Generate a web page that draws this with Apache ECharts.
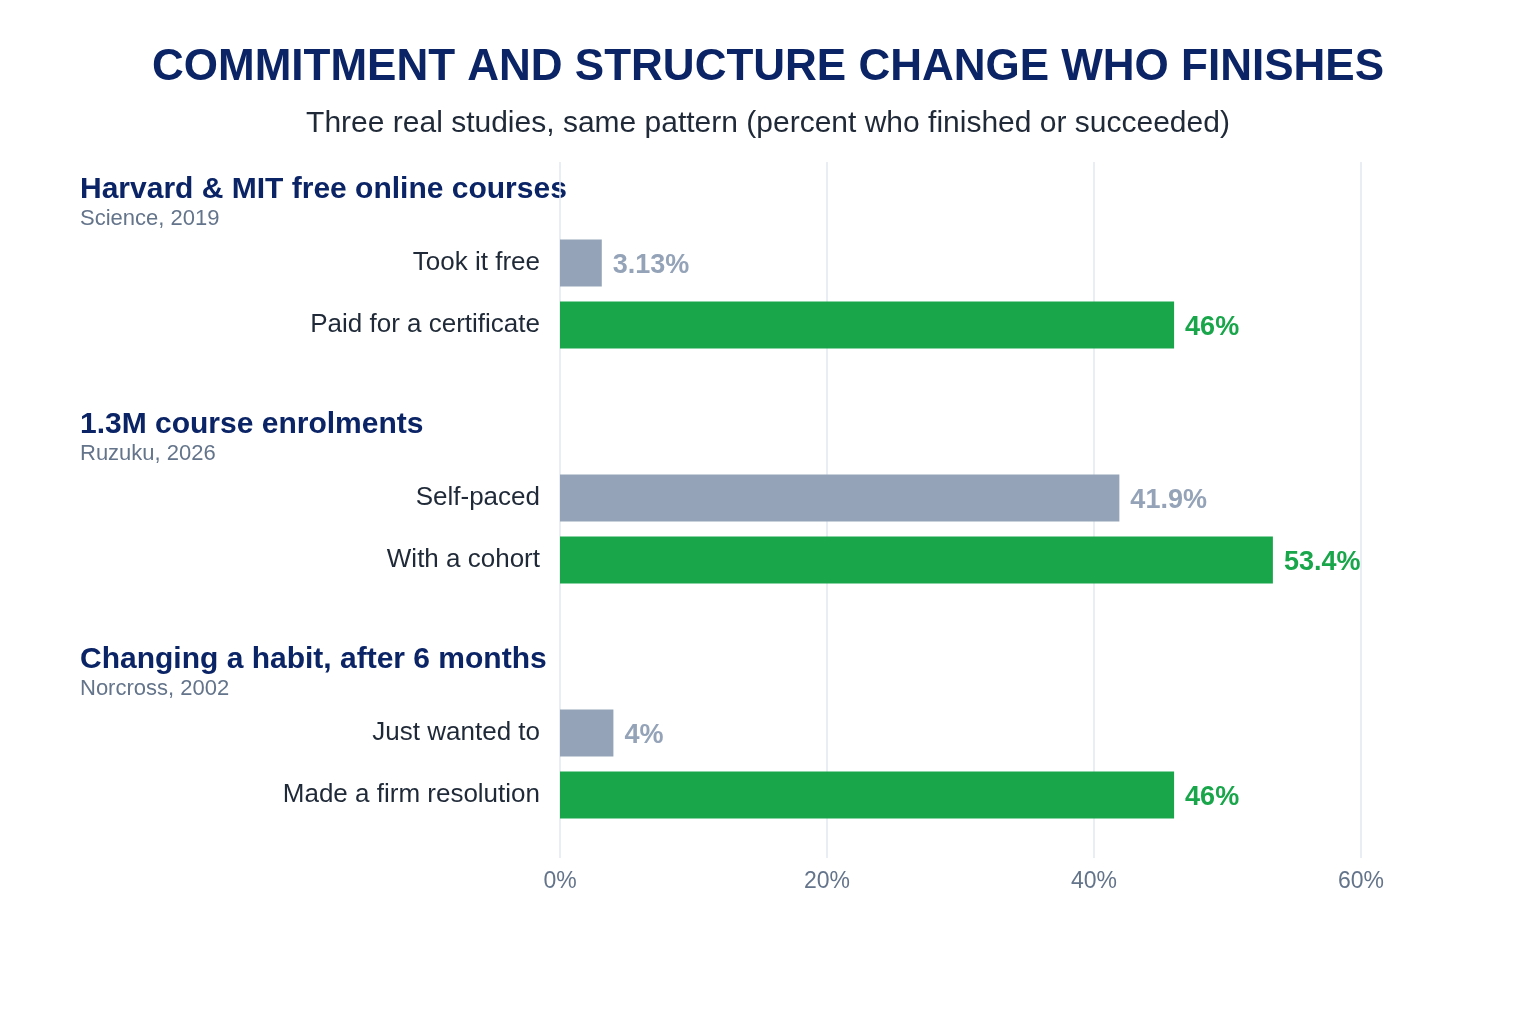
<!DOCTYPE html>
<html>
<head>
<meta charset="utf-8">
<script src="https://cdn.jsdelivr.net/npm/echarts@6/dist/echarts.min.js"></script>
<style>
html,body{margin:0;padding:0;background:#fff;}
#main{width:1536px;height:1024px;}
</style>
</head>
<body>
<div id="main"></div>
<script>
const titleText = 'COMMITMENT AND STRUCTURE CHANGE WHO FINISHES';
const subtitleText = 'Three real studies, same pattern (percent who finished or succeeded)';
const groupTitles = ['Harvard & MIT free online courses', '1.3M course enrolments', 'Changing a habit, after 6 months'];
const groupSources = ['Science, 2019', 'Ruzuku, 2026', 'Norcross, 2002'];
const groupLabels = [
  ['Took it free', 'Paid for a certificate'],
  ['Self-paced', 'With a cohort'],
  ['Just wanted to', 'Made a firm resolution']
];
const groupValues = [
  [3.13, 46],
  [41.9, 53.4],
  [4, 46]
];
const valueLabels = [
  ['3.13%', '46%'],
  ['41.9%', '53.4%'],
  ['4%', '46%']
];
const xTicks = [0, 20, 40, 60];

const FONT = '"Liberation Sans", Arial, Helvetica, sans-serif';
const GRAY = '#94a3b8';
const GREEN = '#19a64b';
const NAVY = '#0b2466';
const LEFT = 560, RIGHT = 1536 - 1361;
const groupTops = [232, 467, 702];
const groupHeaderY = [188, 423, 658];

const chart = echarts.init(document.getElementById('main'), null, {renderer: 'canvas'});

const grids = [{left: LEFT, right: RIGHT, top: 162, bottom: 1024 - 858}];
const xAxes = [{
  gridIndex: 0, type: 'value', min: xTicks[0], max: xTicks[xTicks.length - 1], interval: 20,
  axisLine: {show: false}, axisTick: {show: false},
  splitLine: {show: true, lineStyle: {color: '#e2e8f0', width: 1.5}},
  axisLabel: {formatter: '{value}%', color: '#64748b', fontSize: 23, fontFamily: FONT, margin: 12}
}];
const yAxes = [{gridIndex: 0, type: 'value', show: false}];
const series = [];
const graphics = [];

groupLabels.forEach((labels, g) => {
  const gi = g + 1;
  grids.push({left: LEFT, right: RIGHT, top: groupTops[g], height: 124});
  xAxes.push({gridIndex: gi, type: 'value', min: 0, max: 60, show: false, splitLine: {show: false}});
  yAxes.push({
    gridIndex: gi, type: 'category', inverse: true, data: labels,
    axisLine: {show: false}, axisTick: {show: false},
    axisLabel: {color: '#1f2937', fontSize: 26, fontFamily: FONT, margin: 20, padding: [3, 0, 0, 0]}
  });
  series.push({
    type: 'bar', xAxisIndex: gi, yAxisIndex: gi, barWidth: 47,
    data: groupValues[g].map((v, i) => ({
      value: v,
      itemStyle: {color: i === 0 ? GRAY : GREEN},
      label: {
        show: true, position: 'right', distance: 11, offset: [0, 3],
        formatter: valueLabels[g][i],
        color: i === 0 ? GRAY : GREEN, fontSize: 27, fontWeight: 'bold', fontFamily: FONT
      }
    })),
    silent: true, animation: false
  });
  graphics.push({
    type: 'text', left: 80, top: groupHeaderY[g] - 13,
    style: {text: groupTitles[g], fill: NAVY, font: 'bold 30px ' + FONT}
  });
  graphics.push({
    type: 'text', left: 80, top: groupHeaderY[g] + 20,
    style: {text: groupSources[g], fill: '#64748b', font: '22px ' + FONT}
  });
});

chart.setOption({
  backgroundColor: '#ffffff',
  animation: false,
  title: [
    {text: titleText, left: 'center', top: 41,
     textStyle: {color: NAVY, fontSize: 44, fontWeight: 'bold', fontFamily: FONT}},
    {text: subtitleText, left: 'center', top: 104,
     textStyle: {color: '#1f2937', fontSize: 30, fontWeight: 'normal', fontFamily: FONT}}
  ],
  grid: grids,
  xAxis: xAxes,
  yAxis: yAxes,
  series: series,
  graphic: graphics
});
</script>
</body>
</html>
